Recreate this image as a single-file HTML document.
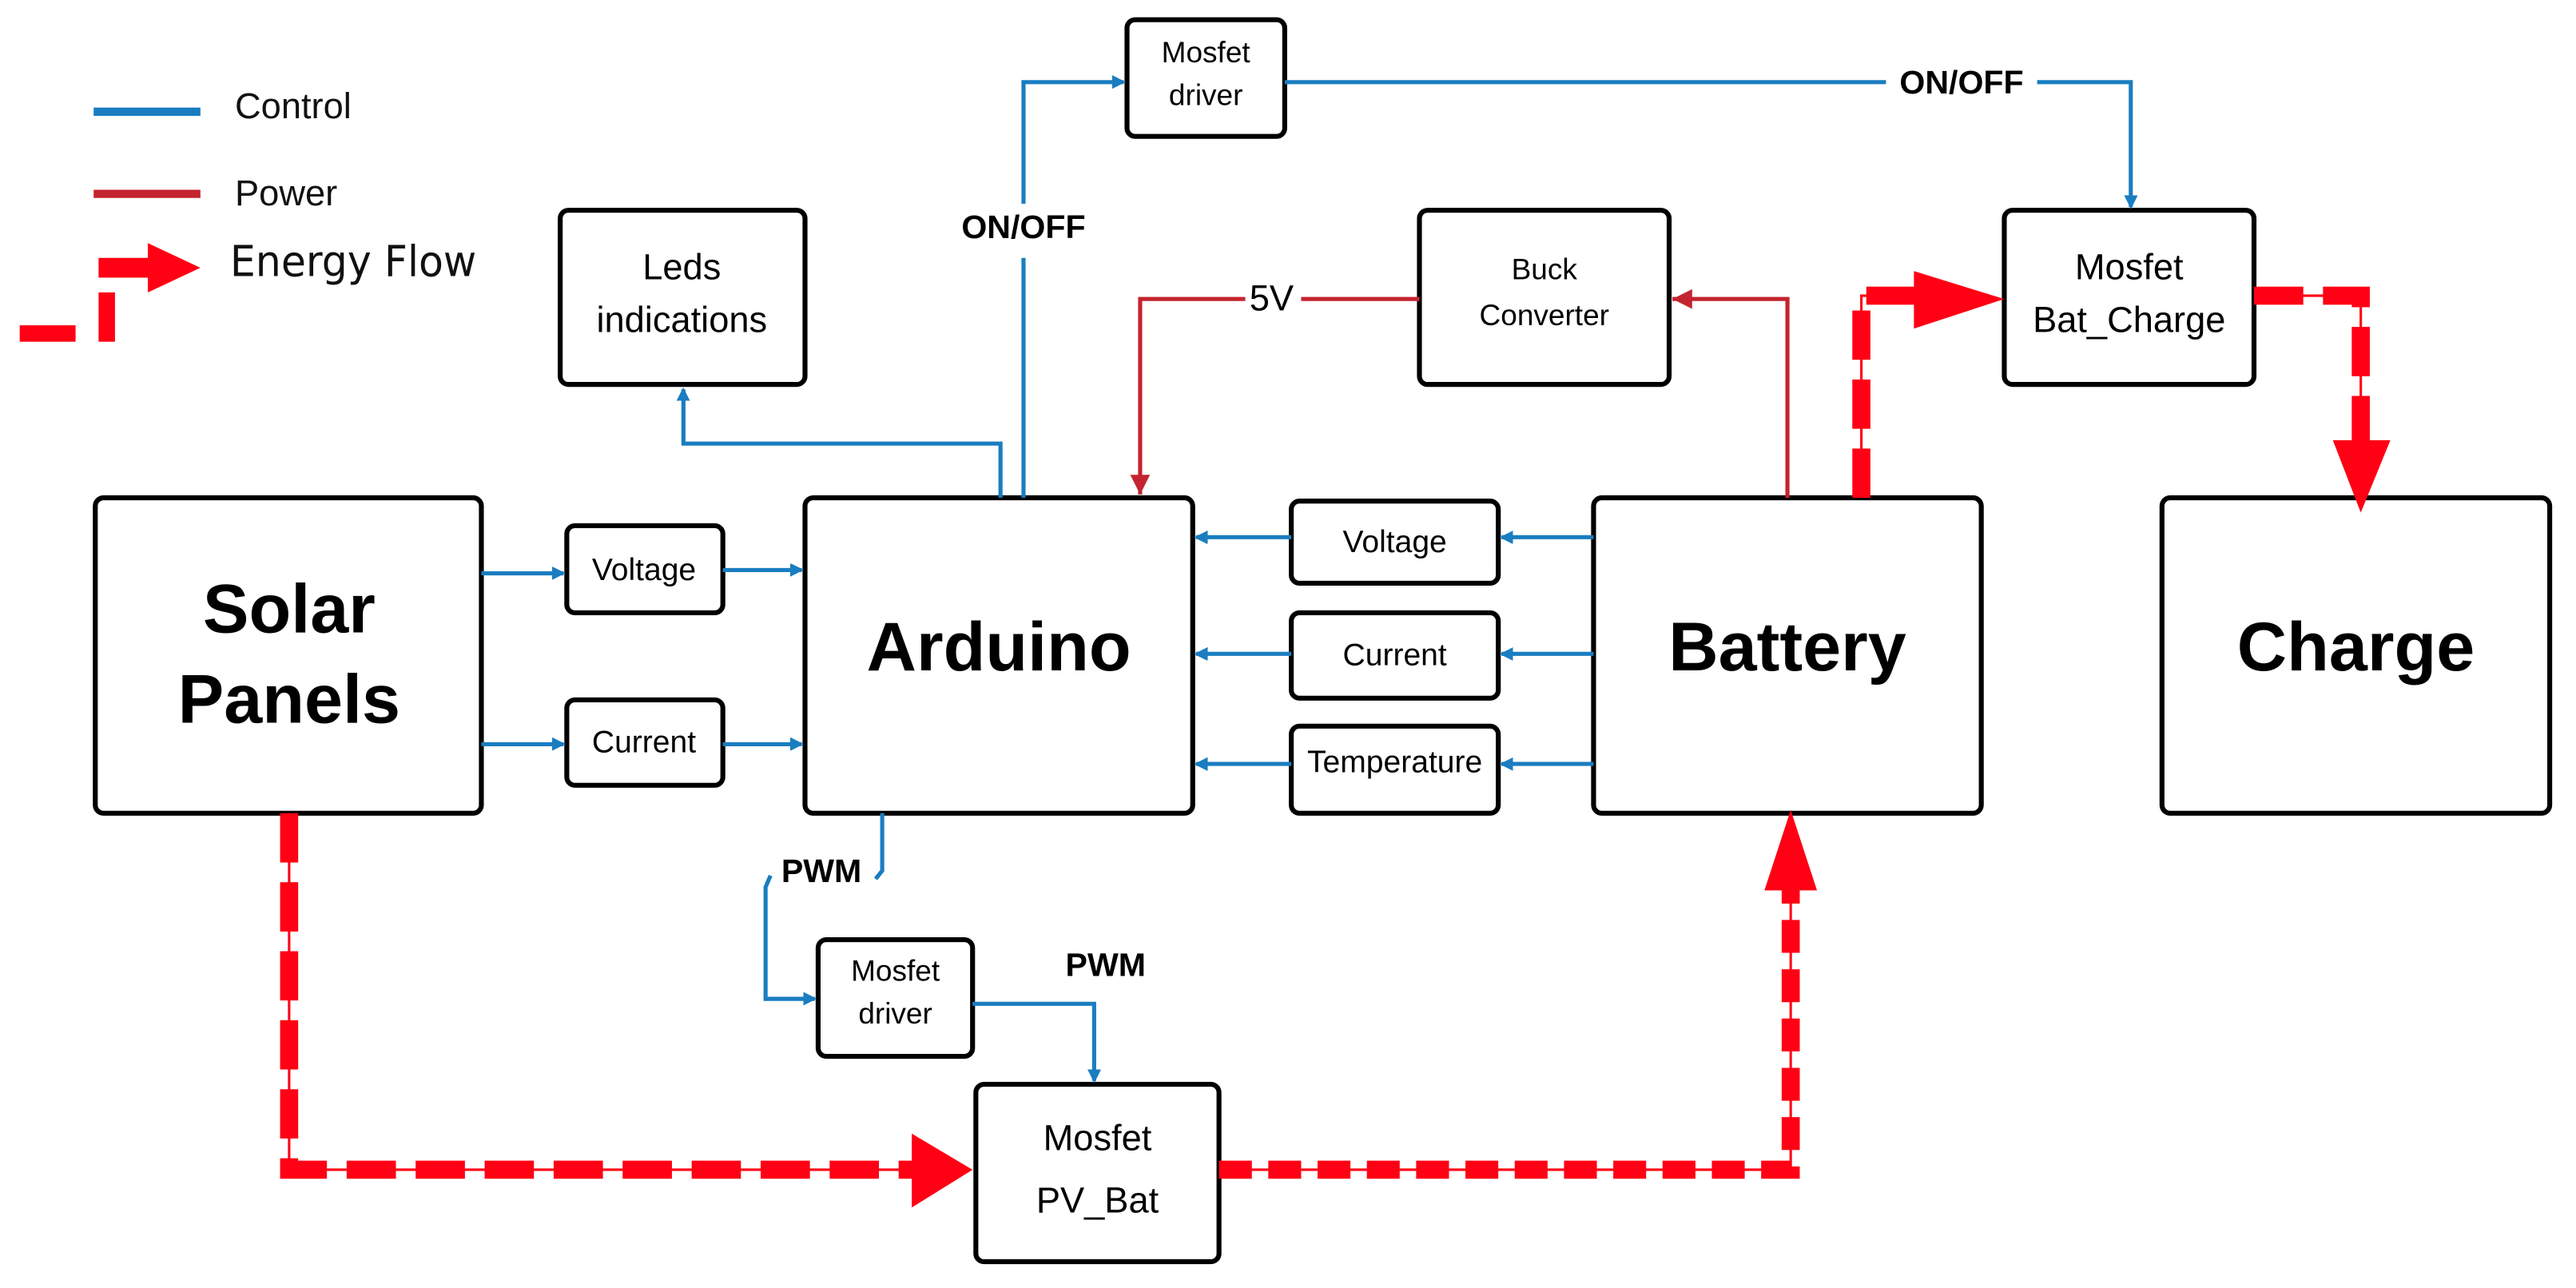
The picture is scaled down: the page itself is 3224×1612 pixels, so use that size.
<!DOCTYPE html>
<html><head><meta charset="utf-8"><style>html,body{margin:0;padding:0;background:#fff}svg{display:block}</style></head>
<body>
<svg width="3224" height="1612" viewBox="0 0 1568 784" preserveAspectRatio="none" xmlns="http://www.w3.org/2000/svg" font-family="Liberation Sans, sans-serif">
<defs>
<marker id="bl" markerWidth="8" markerHeight="8" refX="7" refY="4" orient="auto" markerUnits="userSpaceOnUse"><path d="M0,0 L8,4 L0,8 z" fill="#1a7dc0" transform="scale(1.5) translate(-2.5,-1.4)"/></marker>
<marker id="rd" markerWidth="14" markerHeight="14" refX="12" refY="6" orient="auto" markerUnits="userSpaceOnUse"><path d="M0,0 L12,6 L0,12 z" fill="#c4242f"/></marker>
</defs>
<g fill="none" stroke-linejoin="round">
<line x1="57" y1="68" x2="122" y2="68" stroke="#1a7dc0" stroke-width="5"/>
<line x1="57" y1="118" x2="122" y2="118" stroke="#c4242f" stroke-width="5"/>
</g>
<polygon points="60,157 90,157 90,148 122,163 90,178 90,169 60,169" fill="#ff0014"/>
<rect x="12" y="198" width="34" height="10" fill="#ff0014"/>
<rect x="60" y="178" width="10" height="30" fill="#ff0014"/>
<g font-size="22" fill="#111">
<text x="143" y="72">Control</text>
<text x="143" y="125">Power</text>
</g>
<text x="140" y="168" font-size="26" font-family="DejaVu Sans, sans-serif" fill="#111" textLength="150" lengthAdjust="spacingAndGlyphs">Energy Flow</text>

<g fill="#fff" stroke="#000" stroke-width="3">
<rect x="58" y="303" width="235" height="192" rx="5"/>
<rect x="345" y="320" width="95" height="53" rx="5"/>
<rect x="345" y="426" width="95" height="52" rx="5"/>
<rect x="490" y="303" width="236" height="192" rx="5"/>
<rect x="341" y="128" width="149" height="106" rx="5"/>
<rect x="686" y="12" width="96" height="71" rx="5"/>
<rect x="864" y="128" width="152" height="106" rx="5"/>
<rect x="1220" y="128" width="152" height="106" rx="5"/>
<rect x="786" y="305" width="126" height="50" rx="5"/>
<rect x="786" y="373" width="126" height="52" rx="5"/>
<rect x="786" y="442" width="126" height="53" rx="5"/>
<rect x="970" y="303" width="236" height="192" rx="5"/>
<rect x="1316" y="303" width="236" height="192" rx="5"/>
<rect x="498" y="572" width="94" height="71" rx="5"/>
<rect x="594" y="660" width="148" height="108" rx="5"/>
</g>
<g text-anchor="middle" fill="#000">
<g font-weight="bold" font-size="42">
<text x="176" y="385">Solar</text>
<text x="176" y="440">Panels</text>
<text x="608" y="408">Arduino</text>
<text x="1088" y="408">Battery</text>
<text x="1434" y="408">Charge</text>
</g>
<g font-size="19">
<text x="392" y="353">Voltage</text>
<text x="392" y="458">Current</text>
<text x="849" y="336">Voltage</text>
<text x="849" y="405">Current</text>
<text x="849" y="470">Temperature</text>
</g>
<g font-size="22">
<text x="415" y="170">Leds</text>
<text x="415" y="202">indications</text>
<text x="1296" y="170">Mosfet</text>
<text x="1296" y="202">Bat_Charge</text>
<text x="668" y="700">Mosfet</text>
<text x="668" y="738">PV_Bat</text>
</g>
<g font-size="18">
<text x="734" y="38">Mosfet</text>
<text x="734" y="64">driver</text>
<text x="545" y="597">Mosfet</text>
<text x="545" y="623">driver</text>
<text x="940" y="170">Buck</text>
<text x="940" y="198">Converter</text>
</g>
<g font-size="20" font-weight="bold">
<text x="623" y="145">ON/OFF</text>
<text x="1194" y="57">ON/OFF</text>
<text x="500" y="537">PWM</text>
<text x="673" y="594">PWM</text>
</g>
<text x="774" y="189" font-size="22">5V</text>
</g>

<g fill="none" stroke="#1a7dc0" stroke-width="2.5" marker-end="url(#bl)">
<line x1="293" y1="349" x2="343" y2="349"/>
<line x1="440" y1="347" x2="488" y2="347"/>
<line x1="293" y1="453" x2="343" y2="453"/>
<line x1="440" y1="453" x2="488" y2="453"/>
<line x1="970" y1="327" x2="914" y2="327"/>
<line x1="786" y1="327" x2="728" y2="327"/>
<line x1="970" y1="398" x2="914" y2="398"/>
<line x1="786" y1="398" x2="728" y2="398"/>
<line x1="970" y1="465" x2="914" y2="465"/>
<line x1="786" y1="465" x2="728" y2="465"/>
<polyline points="609,303 609,270 416,270 416,237"/>
<polyline points="623,124 623,50 684,50"/>
<polyline points="1240,50 1297,50 1297,126"/>
<polyline points="469,533 466,540 466,608 496,608"/>
<polyline points="592,611 666,611 666,658"/>
</g>
<g fill="none" stroke="#1a7dc0" stroke-width="2.5">
<line x1="623" y1="303" x2="623" y2="157"/>
<line x1="782" y1="50" x2="1148" y2="50"/>
<polyline points="537,495 537,530 533,535"/>
</g>
<g fill="none" stroke="#c4242f" stroke-width="2.5">
<line x1="864" y1="182" x2="792" y2="182"/>
<polyline points="758,182 694,182 694,301" marker-end="url(#rd)"/>
<polyline points="1088,303 1088,182 1018,182" marker-end="url(#rd)"/>
</g>
<g fill="none" stroke="#ff0014">
<polyline points="176,495 176,712 560,712" stroke-width="1.5"/>
<polyline points="176,495 176,712 560,712" stroke-width="11" stroke-dasharray="30,12"/>
<polyline points="742,712 1090,712 1090,535" stroke-width="1.5"/>
<polyline points="742,712 1090,712 1090,535" stroke-width="11" stroke-dasharray="20,10"/>
<polyline points="1133,303 1133,180 1170,180" stroke-width="1.5"/>
<polyline points="1133,303 1133,180 1170,180" stroke-width="11" stroke-dasharray="30,12"/>
<polyline points="1372,180 1437,180 1437,270" stroke-width="1.5"/>
<polyline points="1372,180 1437,180 1437,270" stroke-width="11" stroke-dasharray="30,12"/>
</g>
<g fill="#ff0014">
<polygon points="555,690 592,712 555,735"/>
<polygon points="1074,542 1090,493 1106,542"/>
<polygon points="1165,165 1220,182 1165,200"/>
<polygon points="1420,268 1437,312 1455,268"/>
</g>
</svg>
</body></html>
